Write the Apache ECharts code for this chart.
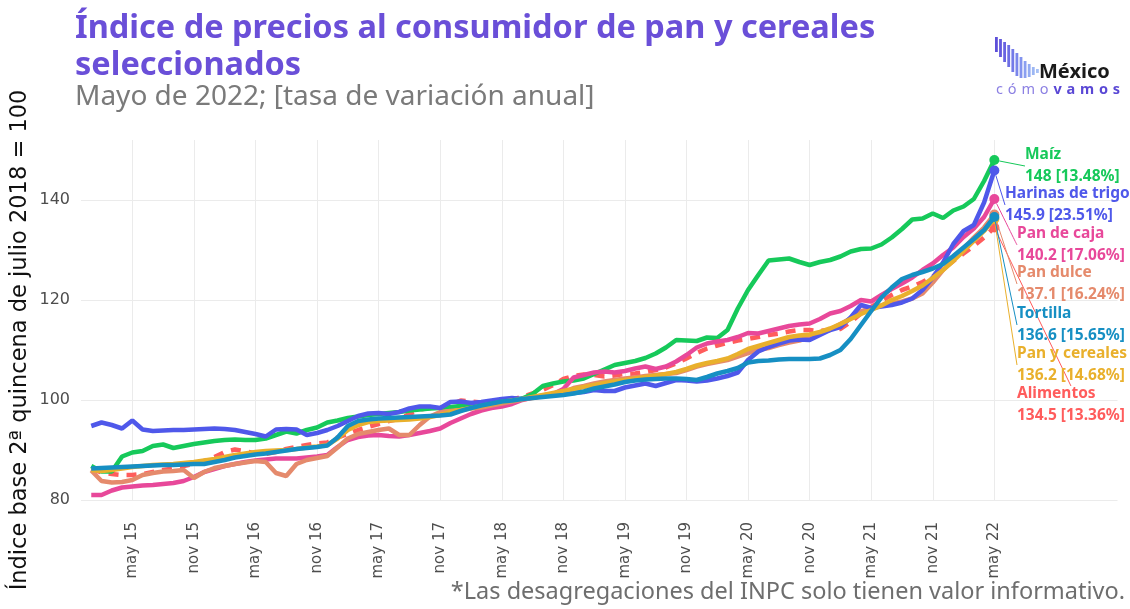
<!DOCTYPE html>
<html>
<head>
<meta charset="utf-8">
<script src="https://cdn.jsdelivr.net/npm/echarts@6/dist/echarts.min.js"></script>
<style>
  html, body { margin: 0; padding: 0; background: #fff; }
  #chart { width: 1130px; height: 609px; }
</style>
</head>
<body>
<div id="chart"></div>
<script>
// monthly index, ene 2015 .. may 2022 (89 points)
const maiz = [86.8,85.7,85.7,88.7,89.5,89.8,90.8,91.1,90.4,90.8,91.2,91.5,91.8,92.0,92.1,92.0,92.0,92.3,93.0,93.7,93.3,94.0,94.5,95.5,95.9,96.4,96.7,97.0,97.2,97.4,97.6,97.9,98.1,98.3,98.4,98.6,98.8,99.0,99.2,99.4,99.7,99.9,100.3,101.2,102.8,103.3,103.7,103.9,104.3,105.2,106.1,107.0,107.4,107.8,108.4,109.3,110.5,112.0,111.9,111.8,112.5,112.4,114.0,118.3,122.0,125.0,127.9,128.1,128.3,127.6,127.0,127.6,128.0,128.7,129.7,130.2,130.3,131.1,132.5,134.2,136.1,136.3,137.3,136.4,137.9,138.7,140.2,143.8,148.0];
const harinas = [94.8,95.5,95.0,94.3,95.9,94.1,93.8,93.9,94.0,94.0,94.1,94.2,94.3,94.2,94.0,93.6,93.2,92.7,94.1,94.2,94.1,93.0,93.4,94.0,94.8,95.8,96.8,97.3,97.4,97.2,97.6,98.3,98.7,98.7,98.4,99.6,99.7,99.4,99.6,99.9,100.2,100.4,100.2,100.5,100.9,101.2,101.2,101.4,101.6,102.0,101.8,101.8,102.5,102.9,103.3,102.8,103.4,104.0,103.9,103.7,103.9,104.3,104.8,105.5,108.0,109.7,110.6,111.3,111.9,112.1,112.0,113.0,114.0,114.6,116.5,119.0,118.4,118.7,119.0,119.5,120.3,122.0,124.5,127.5,131.2,133.8,135.0,139.5,145.9];
const panCaja = [81.0,81.0,81.9,82.5,82.7,82.9,83.0,83.2,83.4,83.8,84.6,85.6,86.2,86.8,87.2,87.6,87.9,88.1,88.3,88.3,88.3,88.5,88.7,89.0,90.6,92.0,92.6,92.9,93.0,92.8,92.7,93.0,93.4,93.8,94.3,95.4,96.3,97.2,97.9,98.4,98.7,99.2,100.0,100.5,100.8,101.2,102.2,104.5,105.0,105.5,105.7,105.5,105.8,106.3,106.7,106.2,106.7,107.7,109.0,110.5,111.3,111.7,112.0,112.6,113.4,113.3,113.8,114.3,114.8,115.1,115.3,116.2,117.3,117.8,118.8,120.0,119.7,121.0,122.2,123.3,124.5,126.0,127.3,129.0,130.5,132.6,134.3,136.6,140.2];
const panDulce = [85.9,83.8,83.5,83.6,84.0,85.0,85.4,85.7,85.8,86.0,84.4,85.6,86.4,86.8,87.2,87.5,87.8,87.6,85.4,84.8,87.2,88.0,88.4,88.8,90.5,92.3,93.2,93.6,94.0,94.3,93.0,93.0,95.0,96.7,97.6,97.8,98.0,98.3,98.5,98.9,99.3,99.7,100.1,100.4,100.8,101.2,101.6,102.4,102.8,103.3,103.7,104.0,104.3,104.5,104.8,105.0,105.2,105.4,106.0,106.7,107.2,107.6,108.0,108.7,109.4,110.0,110.4,111.0,111.5,111.9,112.6,113.4,114.1,115.2,116.3,117.7,118.4,118.9,119.3,119.7,120.3,121.3,123.5,126.0,128.0,130.3,132.5,134.5,137.1];
const tortilla = [86.3,86.4,86.5,86.6,86.7,86.8,86.9,87.0,87.0,87.1,87.2,87.2,87.6,88.0,88.5,88.8,89.1,89.3,89.6,89.9,90.2,90.4,90.6,90.9,92.5,94.8,95.8,96.1,96.3,96.4,96.5,96.6,96.7,96.8,96.9,97.1,97.8,98.4,98.9,99.3,99.7,99.9,100.2,100.4,100.6,100.8,101.0,101.3,101.7,102.3,102.7,103.1,103.6,103.9,104.1,104.2,104.3,104.3,104.2,104.0,104.6,105.3,105.8,106.4,107.5,107.8,107.9,108.1,108.2,108.2,108.2,108.3,109.0,110.0,112.2,115.0,117.8,120.5,122.5,124.2,125.0,125.6,126.3,127.2,128.8,130.5,132.2,134.0,136.6];
const panCereales = [86.0,85.8,86.0,86.3,86.6,86.8,87.0,87.1,87.2,87.4,87.6,87.9,88.2,88.6,89.0,89.3,89.6,89.8,89.9,90.0,90.2,90.5,90.7,91.0,92.3,94.0,95.0,95.6,95.8,95.9,96.0,96.1,96.3,96.6,97.0,97.6,98.0,98.4,98.8,99.2,99.6,99.9,100.2,100.6,101.0,101.4,101.8,102.2,102.6,103.0,103.4,103.7,104.0,104.3,104.6,104.9,105.2,105.6,106.2,106.9,107.4,107.8,108.3,109.2,110.2,110.8,111.4,112.0,112.6,112.9,113.1,113.6,114.3,115.2,116.2,117.2,118.0,118.9,120.0,120.8,121.8,122.9,124.4,126.0,127.8,129.8,131.8,133.8,136.2];
const alimentos = [86.2,85.5,85.2,85.0,85.0,85.2,85.6,86.0,86.3,86.8,87.2,87.8,88.6,89.6,90.1,89.8,89.3,89.2,89.6,90.2,90.6,91.0,91.3,91.5,92.5,93.2,94.0,94.6,95.2,95.8,96.2,97.2,98.1,98.4,98.3,99.0,99.9,99.7,99.5,99.6,99.8,100.1,100.6,101.3,102.0,103.0,104.2,104.8,105.1,105.0,104.7,104.9,105.2,105.3,105.6,106.0,106.5,107.3,108.3,109.4,110.3,110.9,111.4,111.9,112.2,112.6,113.0,113.3,113.7,114.0,114.0,113.8,114.0,114.2,115.6,117.3,118.6,119.8,121.0,122.0,122.7,123.6,124.7,126.2,127.8,129.3,130.8,132.5,134.5];

const nombres = ['Maíz', 'Harinas de trigo', 'Pan de caja', 'Pan dulce', 'Tortilla', 'Pan y cereales', 'Alimentos'];
const variaciones = ['148 [13.48%]', '145.9 [23.51%]', '140.2 [17.06%]', '137.1 [16.24%]', '136.6 [15.65%]', '136.2 [14.68%]', '134.5 [13.36%]'];
const mesesAbr = ['ene','feb','mar','abr','may','jun','jul','ago','sep','oct','nov','dic'];

// category axis: dic 2014 .. may 2023 (one empty month before, a year of room after)
const categorias = [];
for (let y = 2014; y <= 2023; y++) {
  for (let m = 0; m < 12; m++) {
    if (y === 2014 && m < 11) continue;
    if (y === 2023 && m > 4) continue;
    categorias.push(mesesAbr[m] + ' ' + String(y).slice(2));
  }
}
const ultimo = 89; // may 22

function marcado(idx) {
  const c = categorias[idx];
  return idx <= ultimo && (c.startsWith('may') || c.startsWith('nov'));
}

const colores = ['#16c95a', '#4f58ea', '#e8489a', '#e58a6c', '#168fc3', '#e9b02c', '#ff5c5c'];
const etiquetaPos = [
  [1025, 144], [1005, 183], [1017, 223], [1017, 262], [1017, 303], [1017, 343], [1017, 383]
];
const valores = [maiz, harinas, panCaja, panDulce, tortilla, panCereales, alimentos];

function serie(k) {
  const vals = valores[k];
  const data = [null];
  vals.forEach(function (v, i) {
    if (i === vals.length - 1) {
      data.push({
        value: v,
        symbol: 'circle',
        symbolSize: 10,
        label: {
          show: true,
          formatter: '{n|' + nombres[k] + '}\n{v|' + variaciones[k] + '}',
          rich: {
            n: { color: colores[k], fontFamily: 'Noto Sans', fontWeight: 'bold', fontSize: 15.5, lineHeight: 22 },
            v: { color: colores[k], fontFamily: 'Noto Sans', fontWeight: 'bold', fontSize: 15.5, lineHeight: 22 }
          }
        }
      });
    } else {
      data.push(v);
    }
  });
  return {
    name: nombres[k],
    type: 'line',
    symbol: 'none',
    data: data,
    lineStyle: { color: colores[k], width: 4.5, type: k === 6 ? [10, 8] : 'solid' },
    itemStyle: { color: colores[k] },
    labelLine: { show: true, smooth: 0.4, lineStyle: { color: colores[k], width: 1 } },
    labelLayout: { x: etiquetaPos[k][0], y: etiquetaPos[k][1], align: 'left', verticalAlign: 'top' },
    z: [2, 5, 3, 4, 7, 6, 1][k]
  };
}

const chart = echarts.init(document.getElementById('chart'));

const barras = [];
const barTops = [37, 39, 42, 45, 49, 53, 57, 61, 64, 67, 69];
const barBots = [52, 57, 62, 67, 72, 76, 78, 78, 77, 75, 73];
const barCol = ['#5d4fd9','#6258dd','#6863e1','#6d6ee4','#737ae8','#7a86eb','#8293ee','#8a9ff0','#93abf2','#9cb6f3','#a6c0f5'];
for (let b = 0; b < barTops.length; b++) {
  barras.push({
    type: 'rect',
    shape: { x: 995 + b * 4.1, y: barTops[b], width: 2.8, height: barBots[b] - barTops[b] },
    style: { fill: barCol[b] }
  });
}

const option = {
  animation: false,
  backgroundColor: '#ffffff',
  grid: { left: 81, right: 12.5, top: 140, bottom: 109 },
  xAxis: {
    type: 'category',
    data: categorias,
    boundaryGap: false,
    axisLine: { show: false },
    axisTick: { show: false },
    axisLabel: {
      interval: function (i) { return marcado(i); },
      rotate: 90,
      margin: 22,
      color: '#4d4d4d',
      fontFamily: 'DejaVu Sans',
      fontSize: 15
    },
    splitLine: {
      show: true,
      interval: function (i) { return marcado(i); },
      lineStyle: { color: '#ebebeb', width: 1 }
    }
  },
  yAxis: {
    type: 'value',
    min: 80,
    max: 152,
    interval: 20,
    axisLine: { show: false },
    axisTick: { show: false },
    axisLabel: {
      showMaxLabel: false,
      color: '#4d4d4d',
      fontFamily: 'DejaVu Sans',
      fontSize: 16,
      margin: 11
    },
    splitLine: { show: true, showMaxLine: false, lineStyle: { color: '#ebebeb', width: 1 } }
  },
  series: [0, 1, 2, 3, 4, 5, 6].map(serie),
  graphic: [
    {
      type: 'text', left: 75, top: 10,
      style: {
        text: 'Índice de precios al consumidor de pan y cereales\nseleccionados',
        fill: '#6a4fd8', font: 'bold 32.5px "Noto Sans"', lineHeight: 37
      }
    },
    {
      type: 'text', left: 75, top: 83,
      style: { text: 'Mayo de 2022; [tasa de variación anual]', fill: '#7a7a7a', font: '28px "Noto Sans"' }
    },
    {
      type: 'text', x: 20, y: 340, rotation: Math.PI / 2,
      style: {
        text: 'Índice base 2ª quincena de julio 2018 = 100',
        fill: '#111', font: '22.5px "DejaVu Sans"', align: 'center', verticalAlign: 'middle'
      }
    },
    {
      type: 'text', right: 5, top: 580,
      style: { text: '*Las desagregaciones del INPC solo tienen valor informativo.', fill: '#6e6e6e', font: '23.5px "Noto Sans"' }
    },
    {
      type: 'group',
      children: barras.concat([
        {
          type: 'text', x: 1039, y: 72,
          style: { text: 'México', fill: '#1a1a1a', font: 'bold 20px "Noto Sans"', verticalAlign: 'middle' }
        },
        {
          type: 'text', x: 996, y: 90,
          style: {
            text: '{a|c\u2004ó\u2004m\u2004o\u2004}{b|v\u2004a\u2004m\u2004o\u2004s}',
            verticalAlign: 'middle',
            rich: {
              a: { fill: '#8c80e3', font: '14.5px "Noto Sans"' },
              b: { fill: '#5a48d5', font: 'bold 14.5px "Noto Sans"' }
            }
          }
        }
      ])
    }
  ]
};

chart.setOption(option);
</script>
</body>
</html>
